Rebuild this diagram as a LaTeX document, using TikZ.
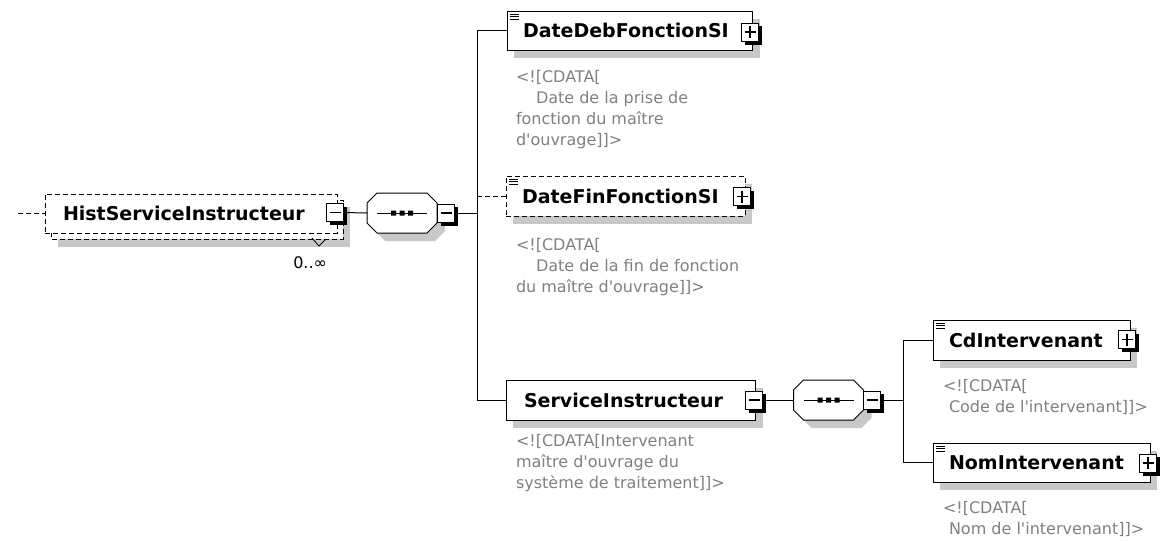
\documentclass[tikz,border=0pt]{standalone}
\usepackage{fontspec}
\setmainfont{DejaVu Sans}
\definecolor{anngray}{RGB}{128,128,128}
\definecolor{shgray}{RGB}{200,200,200}
\newcommand{\namefont}{\fontsize{19}{22}\selectfont\bfseries}
\newcommand{\annfont}{\fontsize{16}{21}\selectfont}
\newcommand{\q}{\textquotesingle}
\newcommand{\pmbox}[3]{% name, x, y
  \fill[black] (#2-5.5,#3-6) rectangle (#2+12,#3+12.5);
  \node[btnbox] (#1) at (#2,#3) {};
  \draw[line width=1.1pt] (#2-5.5,#3) -- (#2+5.5,#3);}
\newcommand{\plusbox}[3]{\pmbox{#1}{#2}{#3}\draw[line width=1.1pt] (#2,#3-6) -- (#2,#3+6);}
\newcommand{\simpleicon}[2]{% x,y of box top-left
  \draw[line width=1pt] (#1+3,#2+3) -- (#1+12,#2+3) (#1+3,#2+5.7) -- (#1+12,#2+5.7) (#1+3,#2+8.4) -- (#1+12,#2+8.4);}
\newcommand{\seqshape}[1]{% node name
  \fill[shgray] ([shift={(18,8)}]#1.north west) -- ([shift={(-2,8)}]#1.north east) -- ([shift={(8,18)}]#1.north east) -- ([shift={(8,-2)}]#1.south east) -- ([shift={(-2,8)}]#1.south east) -- ([shift={(18,8)}]#1.south west) -- ([shift={(8,-2)}]#1.south west) -- ([shift={(8,18)}]#1.north west) -- cycle;
  \draw[line width=1pt, fill=white] ([xshift=10]#1.north west) -- ([xshift=-10]#1.north east) -- ([yshift=-10]#1.north east) -- ([yshift=10]#1.south east) -- ([xshift=-10]#1.south east) -- ([xshift=10]#1.south west) -- ([yshift=10]#1.south west) -- ([yshift=-10]#1.north west) -- cycle;
  \draw[line width=1pt] ([xshift=10]#1.west) -- ([xshift=-10]#1.east);
  \fill[black] ([shift={(-11,-2.5)}]#1.center) rectangle ([shift={(-6,2.5)}]#1.center)
               ([shift={(-2.5,-2.5)}]#1.center) rectangle ([shift={(2.5,2.5)}]#1.center)
               ([shift={(6,-2.5)}]#1.center) rectangle ([shift={(11,2.5)}]#1.center);}
\begin{document}
\begin{tikzpicture}[x=1pt,y=-1pt,
  every node/.style={inner sep=0pt, outer sep=0pt},
  elembox/.style={draw=black, line width=1pt, fill=white, anchor=north west},
  optdash/.style={dash pattern=on 5pt off 3pt},
  btnbox/.style={draw=black, line width=1pt, fill=white, minimum width=17pt, minimum height=18pt},
  namelabel/.style={font=\namefont, anchor=west, text=black},
  ann/.style={font=\annfont, text=anngray, align=left, anchor=north west},
  conn/.style={line width=1pt, draw=black},
  seqbox/.style={draw=none, minimum width=70pt, minimum height=40pt}]
\useasboundingbox (0,0) rectangle (1163,541);

% ---------- HistServiceInstructeur (optional, repeated)
\fill[shgray] (58,207) rectangle (350,247);
\draw[line width=1pt, optdash, fill=white] (51,200) rectangle (343,239);
\node[elembox, optdash, minimum width=292pt, minimum height=39pt] (hist) at (45,194) {};
\node[namelabel] (histl) at (63,213.5) {HistServiceInstructeur};
\pmbox{histbtn}{335}{212.5}
\draw[line width=0.8pt] (312,238) -- (319,246) -- (325,240);
\node[font=\fontsize{16}{20}\selectfont, anchor=base east] (histocc) at (327,268) {0..∞};
\coordinate (start) at (18,213.5);
\draw[conn, optdash] (start) -- (hist.west);

% ---------- sequence 1
\node[seqbox] (seq1) at (402,213) {};
\seqshape{seq1}
\pmbox{seq1btn}{446}{213}
\draw[conn] (histbtn.east) -- (seq1.west);
\coordinate (bus) at (477,213);
\draw[conn] (seq1btn.east) -- (bus);

% ---------- DateDebFonctionSI
\fill[shgray] (514,19) rectangle (760,58);
\node[elembox, minimum width=245pt, minimum height=39pt] (deb) at (507,11) {};
\simpleicon{507}{11}
\node[namelabel] (debl) at (523,30.5) {DateDebFonctionSI};
\plusbox{debbtn}{750}{32}
\node[ann] (debann) at (516,70) {<![CDATA[\\\hspace*{20pt}Date de la prise de\\fonction du maître\\d\q ouvrage]]>};

% ---------- DateFinFonctionSI (optional)
\fill[shgray] (513,184) rectangle (752,224);
\node[elembox, optdash, minimum width=239pt, minimum height=40pt] (fin) at (506,176) {};
\simpleicon{506}{176}
\node[namelabel] (finl) at (522,196) {DateFinFonctionSI};
\plusbox{finbtn}{742}{196.5}
\node[ann] (finann) at (516,238) {<![CDATA[\\\hspace*{20pt}Date de la fin de fonction\\du maître d\q ouvrage]]>};

% ---------- ServiceInstructeur
\fill[shgray] (513,388) rectangle (763,428);
\node[elembox, minimum width=249pt, minimum height=40pt] (si) at (506,380) {};
\node[namelabel] (sil) at (524,400) {ServiceInstructeur};
\pmbox{sibtn}{754}{400}
\node[ann] (siann) at (516,434) {<![CDATA[Intervenant\\maître d\q ouvrage du\\système de traitement]]>};

% ---------- bus 1
\draw[conn] (deb.west) -- (deb.west -| bus) -- (si.west -| bus) -- (si.west);
\draw[conn, optdash] (fin.west -| bus) -- (fin.west);

% ---------- sequence 2
\node[seqbox] (seq2) at (828.5,400) {};
\seqshape{seq2}
\pmbox{seq2btn}{872}{400}
\draw[conn] (sibtn.east) -- (seq2.west);
\coordinate (bus2) at (903,400);
\draw[conn] (seq2btn.east) -- (bus2);

% ---------- CdIntervenant
\fill[shgray] (940,328) rectangle (1137,368);
\node[elembox, minimum width=197pt, minimum height=40pt] (cd) at (933,320) {};
\simpleicon{933}{320}
\node[namelabel] (cdl) at (949,340) {CdIntervenant};
\plusbox{cdbtn}{1127}{339.5}
\node[ann] (cdann) at (943,379) {<![CDATA[\\\hspace*{6pt}Code de l\q intervenant]]>};

% ---------- NomIntervenant
\fill[shgray] (940,451) rectangle (1157,490);
\node[elembox, minimum width=217pt, minimum height=39pt] (nom) at (933,443) {};
\simpleicon{933}{443}
\node[namelabel] (noml) at (949,462.5) {NomIntervenant};
\plusbox{nombtn}{1148}{463}
\node[ann] (nomann) at (943,501) {<![CDATA[\\\hspace*{6pt}Nom de l\q intervenant]]>};

% ---------- bus 2
\draw[conn] (cd.west) -- (cd.west -| bus2) -- (nom.west -| bus2) -- (nom.west);
\end{tikzpicture}
\end{document}
